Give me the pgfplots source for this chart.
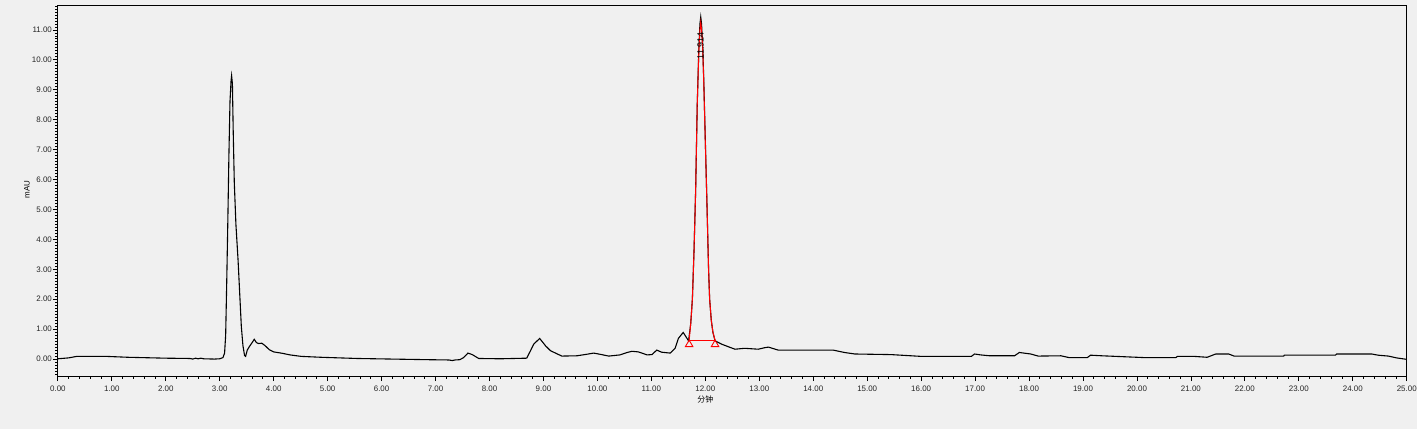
\documentclass[border=0pt]{standalone}
\usepackage{pgfplots}
\pgfplotsset{compat=1.18}
\usepackage{fontspec}
\setmainfont{Liberation Sans}
\newfontfamily\cjk{Noto Sans CJK SC}
\definecolor{bgc}{HTML}{F0F0F0}

\begin{document}
\begin{tikzpicture}
\fill[bgc] (0,0) rectangle (1420bp,430bp);
\begin{axis}[
    at={(58bp,53bp)}, anchor=south west,
    scale only axis,
    width=1352bp, height=371bp,
    xmin=0, xmax=25,
    ymin=-0.57, ymax=11.8,
    axis background/.style={fill=bgc},
    axis line style={black, line width=1bp},
    xtick={0,...,25},
    ytick={0,...,11},
    minor xtick={0,0.2,...,25},
    minor ytick={-0.5,-0.4,...,11.75},
    tick align=outside,
    xtick pos=bottom, ytick pos=left,
    major tick length=5bp, minor tick length=2.5bp,
    every tick/.style={black, line width=0.8bp},
    ticklabel style={font=\fontsize{8}{9}\selectfont, text=black!85},
    /pgf/number format/assume math mode=true,
    xticklabel style={/pgf/number format/fixed, /pgf/number format/fixed zerofill, /pgf/number format/precision=2, yshift=-1.5bp},
    yticklabel style={/pgf/number format/fixed, /pgf/number format/fixed zerofill, /pgf/number format/precision=2, xshift=2.5bp},
    xlabel={\cjk 分钟},
    ylabel={mAU},
    every axis x label/.style={at={(axis description cs:0.480,0)}, anchor=center, yshift=-23bp, font=\fontsize{8}{9}\selectfont},
    every axis y label/.style={at={(axis description cs:-0.0229,0.504)}, anchor=center, rotate=90, font=\fontsize{8}{9}\selectfont},
]
% chromatogram trace
\addplot[black, line width=1.1bp] coordinates {
    (0.00,0.01) (0.20,0.04) (0.35,0.09) (0.90,0.09) (1.30,0.06) (2.00,0.03)
    (2.45,0.02) (2.50,0.00) (2.55,0.03) (2.60,0.01) (2.65,0.03) (2.70,0.01)
    (2.90,0.00) (3.00,0.01) (3.06,0.05) (3.09,0.20) (3.11,0.80) (3.13,2.60)
    (3.15,4.60) (3.17,6.80) (3.19,8.60) (3.21,9.30) (3.22,9.47) (3.235,9.20)
    (3.25,7.60) (3.27,5.90) (3.30,4.50) (3.34,3.30) (3.37,2.20) (3.40,1.10)
    (3.43,0.45) (3.46,0.12) (3.48,0.09) (3.51,0.30) (3.55,0.42) (3.60,0.55)
    (3.64,0.66) (3.68,0.55) (3.72,0.52) (3.78,0.53) (3.84,0.45) (3.92,0.31)
    (4.00,0.24) (4.17,0.19) (4.30,0.14) (4.51,0.09) (4.88,0.06) (5.55,0.02)
    (6.20,0.00) (6.85,-0.02) (7.25,-0.03) (7.31,-0.05) (7.36,-0.03) (7.45,-0.02)
    (7.52,0.05) (7.60,0.20) (7.68,0.15) (7.80,0.02) (8.20,0.01) (8.69,0.03)
    (8.76,0.28) (8.82,0.50) (8.93,0.69) (9.04,0.44) (9.13,0.28) (9.34,0.10)
    (9.62,0.11) (9.80,0.16) (9.93,0.20) (10.05,0.16) (10.21,0.10) (10.42,0.14)
    (10.55,0.22) (10.64,0.26) (10.76,0.24) (10.92,0.14) (11.01,0.15) (11.10,0.30)
    (11.19,0.23) (11.35,0.20) (11.44,0.36) (11.50,0.69) (11.59,0.89) (11.65,0.72)
    (11.69,0.61) (11.73,1.20) (11.76,2.00) (11.79,3.60) (11.82,5.60) (11.85,8.50)
    (11.88,10.40) (11.90,11.20) (11.915,11.43) (11.93,11.20) (11.95,10.50)
    (11.97,9.40) (12.00,7.30) (12.03,5.20) (12.06,3.00) (12.08,2.00) (12.11,1.30)
    (12.14,0.90) (12.18,0.61) (12.30,0.50) (12.43,0.41) (12.55,0.33) (12.73,0.36)
    (12.98,0.33) (13.10,0.38) (13.17,0.40) (13.35,0.30) (14.37,0.30) (14.58,0.22)
    (14.77,0.17) (15.44,0.15) (16.00,0.09) (16.93,0.09) (16.99,0.17) (17.10,0.14)
    (17.27,0.11) (17.73,0.11) (17.82,0.22) (18.03,0.17) (18.17,0.10) (18.59,0.11)
    (18.74,0.05) (19.08,0.05) (19.14,0.13) (19.35,0.11) (20.13,0.05) (20.72,0.05)
    (20.75,0.09) (21.06,0.09) (21.30,0.06) (21.46,0.17) (21.70,0.17) (21.80,0.10)
    (22.72,0.10) (22.73,0.13) (23.68,0.13) (23.70,0.17) (24.35,0.17) (24.47,0.13)
    (24.66,0.10) (24.81,0.04) (25.00,-0.01)
};
% integrated peak
\addplot[red, line width=1bp] coordinates {
    (11.70,0.63) (11.73,1.20) (11.76,2.00) (11.79,3.60) (11.82,5.60) (11.85,8.50)
    (11.88,10.30) (11.90,11.00) (11.915,11.25) (11.93,11.00) (11.95,10.40)
    (11.97,9.30) (12.00,7.20) (12.03,5.20) (12.06,3.00) (12.08,2.00) (12.11,1.30)
    (12.14,0.90) (12.18,0.63)
};
% baseline
\addplot[red, line width=1bp] coordinates {(11.70,0.63) (12.18,0.63)};
\addplot[only marks, mark=triangle, red, mark size=4.3bp, mark options={line width=0.9bp}]
    coordinates {(11.70,0.49) (12.18,0.49)};
\node[rotate=90, inner sep=0pt, font=\fontsize{9}{10}\selectfont] at (axis cs:11.91,10.47) {11.914};
\end{axis}
\end{tikzpicture}
\end{document}
